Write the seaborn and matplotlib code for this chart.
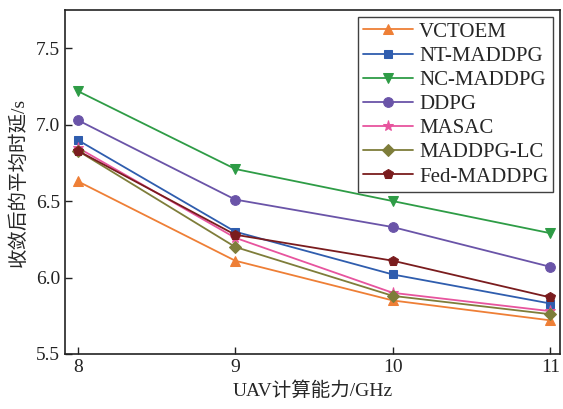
import matplotlib
matplotlib.use("Agg")
import matplotlib.pyplot as plt
import seaborn as sns
import pandas as pd

x_vals = [8, 9, 10, 11]
vctoem = [6.63, 6.11, 5.85, 5.72]
nt_maddpg = [6.90, 6.30, 6.02, 5.83]
nc_maddpg = [7.22, 6.71, 6.50, 6.29]
ddpg = [7.03, 6.51, 6.33, 6.07]
masac = [6.85, 6.26, 5.90, 5.78]
maddpg_lc = [6.83, 6.20, 5.88, 5.76]
fed_maddpg = [6.83, 6.28, 6.11, 5.87]

series_names = ["VCTOEM", "NT-MADDPG", "NC-MADDPG", "DDPG", "MASAC", "MADDPG-LC", "Fed-MADDPG"]
series_vals = [vctoem, nt_maddpg, nc_maddpg, ddpg, masac, maddpg_lc, fed_maddpg]
colors = ["#EE7F36", "#2F5DAE", "#2E9C46", "#6A54A8", "#E7549E", "#7E7D3A", "#7A1C1E"]
markers = ["^", "s", "v", "o", "*", "D", "p"]
msizes = [7, 6, 7, 7, 8, 6, 7]

rows = []
for name, vals in zip(series_names, series_vals):
    for xv, yv in zip(x_vals, vals):
        rows.append({"x": xv, "y": yv, "method": name})
df = pd.DataFrame(rows)

sns.set_theme(style="ticks")
plt.rcParams["font.family"] = ["Liberation Serif", "Noto Sans CJK SC"]
plt.rcParams["axes.unicode_minus"] = False

fig = plt.figure(figsize=(5.63, 4.09), dpi=100)
ax = fig.add_axes([0.1155, 0.1345, 0.879, 0.8411])

for name, c, m, ms in zip(series_names, colors, markers, msizes):
    sub = df[df["method"] == name]
    sns.lineplot(data=sub, x="x", y="y", ax=ax, color=c, marker=m, markersize=ms,
                 markeredgecolor=c, linewidth=1.3, label=name)

ax.set_xlim(7.92, 11.06)
ax.set_ylim(5.5, 7.75)
ax.set_xticks(x_vals)
ax.set_xticklabels([str(v) for v in x_vals])
ax.set_yticks([5.5, 6.0, 6.5, 7.0, 7.5])
ax.set_yticklabels(["5.5", "6.0", "6.5", "7.0", "7.5"])
ax.tick_params(direction="in", length=5, width=1.0, labelsize=14, colors="#222222")
for s in ax.spines.values():
    s.set_color("#222222")
    s.set_linewidth(1.2)
ax.set_xlabel("UAV计算能力/GHz", fontsize=14, labelpad=4)
ax.set_ylabel("收敛后的平均时延/s", fontsize=14, labelpad=6)

leg = ax.legend(loc="upper right", bbox_to_anchor=(0.987, 0.98), fontsize=15, frameon=True,
                fancybox=False, edgecolor="#111111", handlelength=2.4, handletextpad=0.3,
                labelspacing=0.22, borderpad=0.25, borderaxespad=0.0)
leg.get_frame().set_linewidth(1.0)

fig.savefig("out.png", dpi=100)
